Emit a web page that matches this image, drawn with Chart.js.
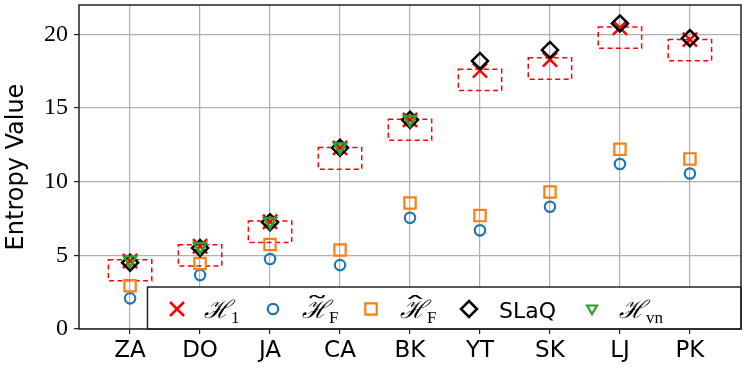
<!DOCTYPE html>
<html>
<head>
<meta charset="utf-8">
<script src="https://cdn.jsdelivr.net/npm/chart.js@4.4.1/dist/chart.umd.min.js"></script>
<style>
  body { margin: 0; background: #fff; }
  #wrap { width: 747px; height: 374px; }
</style>
</head>
<body>
<div id="wrap"><canvas id="entropyChart"></canvas></div>
<script>
// datasets
const categories = ['ZA', 'DO', 'JA', 'CA', 'BK', 'YT', 'SK', 'LJ', 'PK'];
const h1Values    = [4.62, 5.62, 7.28, 12.3, 14.2, 17.55, 18.3, 20.45, 19.65];
const tildeHF     = [2.08, 3.66, 4.75, 4.34, 7.55, 6.7, 8.3, 11.2, 10.56];
const hatHF       = [2.94, 4.45, 5.74, 5.36, 8.56, 7.7, 9.3, 12.2, 11.55];
const slaqValues  = [4.5, 5.5, 7.25, 12.3, 14.2, 18.2, 18.95, 20.75, 19.75];
const hvnValues   = [4.68, 5.6, 7.3, 12.36, 14.22, null, null, null, null];
const rangeLow    = [3.28, 4.27, 5.88, 10.85, 12.81, 16.2, 16.95, 19.07, 18.22];
const rangeHigh   = [4.7, 5.72, 7.34, 12.32, 14.24, 17.63, 18.42, 20.5, 19.66];
const yTicks = [0, 5, 10, 15, 20];

const toPoints = vals => vals.map((v, i) => ({ x: i, y: v })).filter(p => p.y !== null);

const data = {
    datasets: [{
        label: 'H1',
        data: toPoints(h1Values),
        pointStyle: 'crossRot',
        pointRadius: 10,
        borderColor: '#ff0000',
        borderWidth: 2.5,
        order: 5
    }, {
        label: 'tildeHF',
        data: toPoints(tildeHF),
        pointStyle: 'circle',
        pointRadius: 5.2,
        borderColor: '#1f77b4',
        backgroundColor: 'rgba(0,0,0,0)',
        borderWidth: 2.2,
        order: 4
    }, {
        label: 'hatHF',
        data: toPoints(hatHF),
        pointStyle: 'rect',
        pointRadius: 8,
        borderColor: '#ff7f0e',
        backgroundColor: 'rgba(0,0,0,0)',
        borderWidth: 2.2,
        order: 3
    }, {
        label: 'SLaQ',
        data: toPoints(slaqValues),
        pointStyle: 'rectRot',
        pointRadius: 8,
        borderColor: '#000000',
        backgroundColor: 'rgba(0,0,0,0)',
        borderWidth: 2.5,
        order: 2
    }, {
        label: 'Hvn',
        data: toPoints(hvnValues),
        pointStyle: 'triangle',
        rotation: 180,
        pointRadius: 7,
        borderColor: '#2ca02c',
        backgroundColor: 'rgba(0,0,0,0)',
        borderWidth: 2.5,
        order: 1
    }]
};

// pin the plot area to the same place as the original figure
const fixArea = {
    id: 'fixArea',
    afterLayout(chart) {
        const a = chart.chartArea;
        const { x, y } = chart.scales;
        a.left = 79; a.top = 5; a.right = 741; a.bottom = 329;
        a.width = a.right - a.left; a.height = a.bottom - a.top;
        x.left = a.left; x.right = a.right; x.width = a.width;
        x.top = a.bottom; x.bottom = chart.height; x.height = x.bottom - x.top;
        y.left = 0; y.right = a.left; y.width = a.left;
        y.top = a.top; y.bottom = a.bottom; y.height = a.height;
        x.configure();
        y.configure();
    }
};

// dashed red boxes around the H1 range
const rangeBoxes = {
    id: 'rangeBoxes',
    beforeDatasetsDraw(chart) {
        const { ctx, scales: { x, y } } = chart;
        ctx.save();
        ctx.strokeStyle = '#ff0000';
        ctx.lineWidth = 1.5;
        ctx.setLineDash([5, 3.5]);
        categories.forEach((c, i) => {
            const left = x.getPixelForValue(i - 0.31);
            const right = x.getPixelForValue(i + 0.31);
            const top = y.getPixelForValue(rangeHigh[i]);
            const bottom = y.getPixelForValue(rangeLow[i]);
            ctx.strokeRect(left, top, right - left, bottom - top);
        });
        ctx.restore();
    }
};

function drawMarker(ctx, kind, x, y) {
    ctx.save();
    ctx.beginPath();
    if (kind === 'x') {
        ctx.strokeStyle = '#ff0000'; ctx.lineWidth = 2.5;
        ctx.moveTo(x - 7, y - 7); ctx.lineTo(x + 7, y + 7);
        ctx.moveTo(x + 7, y - 7); ctx.lineTo(x - 7, y + 7);
    } else if (kind === 'o') {
        ctx.strokeStyle = '#1f77b4'; ctx.lineWidth = 2.2;
        ctx.arc(x, y, 5.2, 0, Math.PI * 2);
    } else if (kind === 's') {
        ctx.strokeStyle = '#ff7f0e'; ctx.lineWidth = 2.2;
        ctx.rect(x - 5.7, y - 5.7, 11.4, 11.4);
    } else if (kind === 'd') {
        ctx.strokeStyle = '#000'; ctx.lineWidth = 2.5;
        ctx.moveTo(x, y - 8); ctx.lineTo(x + 8, y); ctx.lineTo(x, y + 8); ctx.lineTo(x - 8, y); ctx.closePath();
    } else if (kind === 'v') {
        ctx.strokeStyle = '#2ca02c'; ctx.lineWidth = 2.2;
        ctx.moveTo(x - 5, y - 3.5); ctx.lineTo(x + 5, y - 3.5); ctx.lineTo(x, y + 5); ctx.closePath();
    }
    ctx.stroke();
    ctx.restore();
}

function drawMath(ctx, x, baseY, sub, accent) {
    ctx.save();
    ctx.fillStyle = '#000';
    ctx.textBaseline = 'alphabetic';
    ctx.font = 'italic 25px "DejaVu Serif"';
    ctx.fillText('\u210B', x, baseY);
    const w = ctx.measureText('\u210B').width;
    if (accent) {
        ctx.font = '22px "DejaVu Serif"';
        ctx.save();
        ctx.translate(x + w / 2 + 2, baseY - 5);
        ctx.scale(2.2, 1);
        ctx.textAlign = 'center';
        ctx.fillText(accent, 0, 0);
        ctx.restore();
    }
    ctx.font = '17px "Liberation Serif"';
    ctx.fillText(sub, x + w + 1, baseY + 5);
    ctx.restore();
}

// legend box sitting in the lower right of the axes
const insideLegend = {
    id: 'insideLegend',
    afterDatasetsDraw(chart) {
        const { ctx, chartArea: a } = chart;
        const top = 287, left = 147.5;
        ctx.save();
        ctx.fillStyle = '#fff';
        ctx.fillRect(left, top, a.right - left, a.bottom - top);
        ctx.strokeStyle = '#222';
        ctx.lineWidth = 1.5;
        ctx.strokeRect(left, top, a.right - left, a.bottom - top);
        const my = 309;
        drawMarker(ctx, 'x', 177, my);
        drawMath(ctx, 204, 318, '1', null);
        drawMarker(ctx, 'o', 273, my);
        drawMath(ctx, 302, 318, 'F', '\u02DC');
        drawMarker(ctx, 's', 371, my);
        drawMath(ctx, 400, 318, 'F', '\u02C6');
        drawMarker(ctx, 'd', 469, my);
        ctx.fillStyle = '#000';
        ctx.font = '22px "DejaVu Sans"';
        ctx.textBaseline = 'alphabetic';
        ctx.fillText('SLaQ', 499, 318);
        drawMarker(ctx, 'v', 592, my);
        drawMath(ctx, 619, 318, 'vn', null);
        ctx.restore();
    }
};

// black frame on all four sides
const frame = {
    id: 'frame',
    afterDraw(chart) {
        const { ctx, chartArea: a } = chart;
        ctx.save();
        ctx.strokeStyle = '#222';
        ctx.lineWidth = 1.5;
        ctx.strokeRect(a.left, a.top, a.right - a.left, a.bottom - a.top);
        ctx.restore();
    }
};

const config = {
    type: 'scatter',
    data,
    options: {
        responsive: true,
        maintainAspectRatio: false,
        animation: false,
        layout: { padding: { top: 5, right: 6, left: 0, bottom: 0 } },
        plugins: {
            legend: { display: false },
            tooltip: { enabled: false }
        },
        scales: {
            x: {
                type: 'linear',
                min: -0.73,
                max: 8.73,
                afterBuildTicks: s => { s.ticks = categories.map((c, i) => ({ value: i })); },
                ticks: {
                    callback: v => categories[v],
                    color: '#000',
                    font: { family: 'DejaVu Sans', size: 23 },
                    padding: 3,
                    maxRotation: 0
                },
                grid: { color: '#b0b0b0', lineWidth: 1.2, tickColor: '#222', tickLength: 5 },
                border: { display: false }
            },
            y: {
                min: 0,
                max: 22,
                afterBuildTicks: s => { s.ticks = yTicks.map(v => ({ value: v })); },
                ticks: {
                    color: '#000',
                    font: { family: 'Liberation Serif', size: 24 },
                    padding: 6
                },
                grid: { color: '#b0b0b0', lineWidth: 1.2, tickColor: '#222', tickLength: 5 },
                border: { display: false },
                title: {
                    display: true,
                    text: 'Entropy Value',
                    color: '#000',
                    font: { family: 'DejaVu Sans', size: 24 },
                    padding: { top: 2, bottom: 0 }
                }
            }
        }
    },
    plugins: [fixArea, rangeBoxes, insideLegend, frame]
};

const entropyChart = new Chart(document.getElementById('entropyChart'), config);
</script>
</body>
</html>
